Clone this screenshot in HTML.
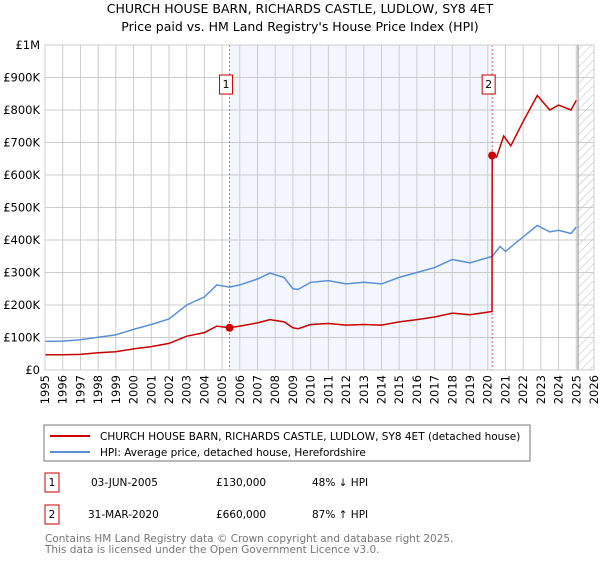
<!DOCTYPE html>
<html><head><meta charset="utf-8"><style>
body{margin:0;background:#fff;font-family:"Liberation Sans","DejaVu Sans",sans-serif;}
svg text{font-family:"DejaVu Sans","Liberation Sans",sans-serif;}
</style></head><body>
<svg id="chart" width="600" height="560" xmlns="http://www.w3.org/2000/svg">
<defs><pattern id="hatch" width="6" height="6" patternUnits="userSpaceOnUse" patternTransform="rotate(45)"><line x1="0" y1="0" x2="0" y2="6" stroke="#bbb" stroke-width="1"/></pattern></defs>
<text x="300" y="13" text-anchor="middle" font-size="12.5" fill="#000">CHURCH HOUSE BARN, RICHARDS CASTLE, LUDLOW, SY8 4ET</text>
<text x="300" y="31" text-anchor="middle" font-size="12.5" fill="#000">Price paid vs. HM Land Registry's House Price Index (HPI)</text>
<g id="plot"></g>
<rect x="44" y="425" width="486" height="36" fill="#fff" stroke="#777"/>
<line x1="50" y1="436" x2="90" y2="436" stroke="#cc0000" stroke-width="2"/>
<text x="100" y="440" font-size="10.5">CHURCH HOUSE BARN, RICHARDS CASTLE, LUDLOW, SY8 4ET (detached house)</text>
<line x1="50" y1="452" x2="90" y2="452" stroke="#5b8fd4" stroke-width="2"/>
<text x="100" y="456" font-size="10.5">HPI: Average price, detached house, Herefordshire</text>
<g font-size="10.5">
<rect x="45" y="473" width="14" height="19" fill="#fff" stroke="#cc0000"/><text x="52" y="486" text-anchor="middle">1</text>
<text x="91" y="486">03-JUN-2005</text><text x="216" y="486">£130,000</text><text x="312" y="486">48% ↓ HPI</text></g>
<g font-size="10.5">
<rect x="45" y="505" width="14" height="19" fill="#fff" stroke="#cc0000"/><text x="52" y="518" text-anchor="middle">2</text>
<text x="88" y="518">31-MAR-2020</text><text x="216" y="518">£660,000</text><text x="312" y="518">87% ↑ HPI</text></g>
<text x="45" y="542" font-size="10.5" fill="#777">Contains HM Land Registry data © Crown copyright and database right 2025.</text>
<text x="45" y="553" font-size="10.5" fill="#777">This data is licensed under the Open Government Licence v3.0.</text>
</svg>
<script>
const hpiYears=[1995,1996,1997,1998,1999,2000,2001,2002,2003,2004,2004.7,2005.42,2006,2007,2007.7,2008.5,2009,2009.3,2010,2011,2012,2013,2014,2015,2016,2017,2018,2019,2020.25,2020.7,2021,2022,2022.8,2023.5,2024,2024.7,2025];
const hpiValues=[88000,89000,93000,101000,108000,125000,140000,157000,200000,225000,262000,255000,262000,280000,298000,285000,250000,248000,270000,275000,265000,270000,265000,285000,300000,315000,340000,330000,350000,380000,365000,410000,445000,425000,430000,420000,440000];
const redYears=[1995,1996,1997,1998,1999,2000,2001,2002,2003,2004,2004.7,2005.42,2006,2007,2007.7,2008.5,2009,2009.3,2010,2011,2012,2013,2014,2015,2016,2017,2018,2019,2020.24,2020.25,2020.5,2020.9,2021.3,2022,2022.8,2023.5,2024,2024.7,2025];
const redValues=[47000,47000,48000,53000,56000,65000,72000,82000,104000,115000,135000,130000,135000,145000,155000,148000,130000,127000,140000,143000,138000,140000,138000,148000,155000,163000,175000,170000,180000,660000,655000,720000,690000,765000,845000,800000,815000,800000,830000];
const saleYears=[2005.42,2020.25];
const saleValues=[130000,660000];
const saleLabels=["1","2"];
const yTicks=[0,100000,200000,300000,400000,500000,600000,700000,800000,900000,1000000];
const yTickLabels=["£0","£100K","£200K","£300K","£400K","£500K","£600K","£700K","£800K","£900K","£1M"];
const xTicks=[1995,1996,1997,1998,1999,2000,2001,2002,2003,2004,2005,2006,2007,2008,2009,2010,2011,2012,2013,2014,2015,2016,2017,2018,2019,2020,2021,2022,2023,2024,2025,2026];
const X0=45,X1=594,Y0=370,Y1=45;
const xs=v=>X0+(v-1995)/(2026-1995)*(X1-X0);
const ys=v=>Y0-v/1000000*(Y0-Y1);
const NS="http://www.w3.org/2000/svg";
const plot=document.getElementById('plot');
function mk(tag,attrs){const e=document.createElementNS(NS,tag);for(const k in attrs)e.setAttribute(k,attrs[k]);plot.appendChild(e);return e;}
let e;
e=mk('rect',{x:xs(saleYears[0]),y:Y1,width:xs(saleYears[1])-xs(saleYears[0]),height:Y0-Y1,fill:'#f3f6fd'});


e=mk('rect',{x:xs(2025.1),y:Y1,width:X1-xs(2025.1),height:Y0-Y1,fill:'url(#hatch)'});


yTicks.forEach((t,i)=>{
 e=mk('line',{x1:X0,x2:X1,y1:ys(t),y2:ys(t),stroke:'#ccc'});
 
 
 e=mk('text',{x:X0-5,y:ys(t)+4,'text-anchor':'end','font-size':'11.5'});e.textContent=yTickLabels[i];
 
 
});
xTicks.forEach(t=>{
 e=mk('line',{x1:xs(t),x2:xs(t),y1:Y1,y2:Y0,stroke:'#ccc'});
 
 
 e=mk('text',{x:0,y:0,'text-anchor':'end','font-size':'11.5',transform:`translate(${xs(t)+4},${Y0+5}) rotate(-90)`});e.textContent=t;
 
 
});
e=mk('line',{x1:xs(2025.1),x2:xs(2025.1),y1:Y1,y2:Y0,stroke:'#888'});


saleYears.forEach((s,i)=>{
 e=mk('line',{x1:xs(s),x2:xs(s),y1:Y1,y2:Y0,stroke:'#e06666','stroke-dasharray':'2,2'});
 
 
});
const pts=(xa,va)=>xa.map((x,i)=>xs(x).toFixed(1)+','+ys(va[i]).toFixed(1)).join(' ');
e=mk('polyline',{points:pts(hpiYears,hpiValues),fill:'none',stroke:'#5b8fd4','stroke-width':1.5});


e=mk('polyline',{points:pts(redYears,redValues),fill:'none',stroke:'#cc0000','stroke-width':1.5});


saleYears.forEach((s,i)=>{
 e=mk('circle',{cx:xs(s),cy:ys(saleValues[i]),r:4,fill:'#cc0000'});
 
 
 e=mk('rect',{x:xs(s)-10,y:75,width:13,height:19,fill:'#fff',stroke:'#cc0000'});
 
 
 e=mk('text',{x:xs(s)-3.5,y:88,'text-anchor':'middle','font-size':'11'});e.textContent=saleLabels[i];
 
 
});
e=mk('rect',{x:X0,y:Y1,width:X1-X0,height:Y0-Y1,fill:'none',stroke:'#ccc'});


</script>
</body></html>
